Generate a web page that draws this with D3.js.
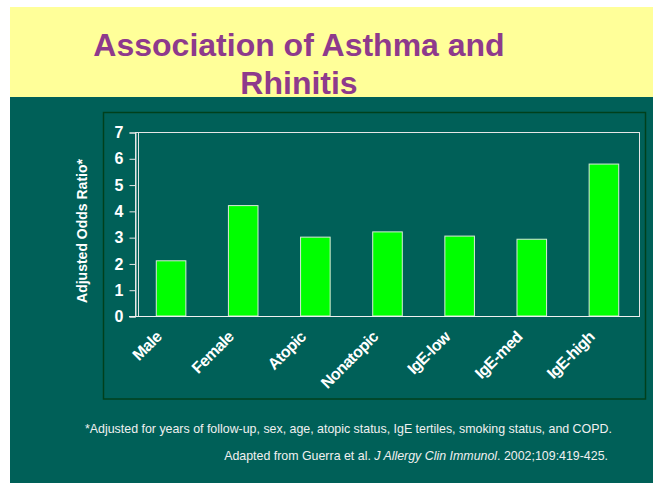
<!DOCTYPE html>
<html><head><meta charset="utf-8">
<script src="https://cdn.jsdelivr.net/npm/d3@7"></script>
<style>html,body{margin:0;padding:0;background:#fff;}svg{display:block;}</style>
</head><body>
<script>
const categories = ["Male","Female","Atopic","Nonatopic","IgE-low","IgE-med","IgE-high"];
const oddsRatios = [2.1, 4.2, 3.0, 3.2, 3.04, 2.92, 5.78];
const yTicks = [0,1,2,3,4,5,6,7];
const titleLines = ["Association of Asthma and","Rhinitis"];
const yTitle = "Adjusted Odds Ratio*";
const footnote = "*Adjusted for years of follow-up, sex, age, atopic status, IgE tertiles, smoking status, and COPD.";

const W = 653, H = 483;
const svg = d3.select("body").append("svg").attr("width", W).attr("height", H)
  .style("font-family", "Arial, 'Liberation Sans', sans-serif");

const teal = "#006058";
svg.append("rect").attr("x", 10).attr("y", 96).attr("width", W - 10).attr("height", H - 96).attr("fill", teal);
svg.append("rect").attr("x", 10).attr("y", 7).attr("width", W - 10).attr("height", 90).attr("fill", "#FFFF99");

svg.append("text").attr("x", 299).attr("text-anchor", "middle")
  .attr("fill", "#8E3A8C").attr("font-weight", "bold").attr("font-size", 32)
  .selectAll("tspan").data(titleLines).join("tspan")
  .attr("x", 299).attr("y", (d, i) => 56 + i * 38).text(d => d);

// chart frame
svg.append("rect").attr("x", 103.5).attr("y", 112.5).attr("width", 542).attr("height", 286.5)
  .attr("fill", "none").attr("stroke", "#00401c").attr("stroke-width", 1.5);

const x = d3.scaleBand().domain(categories).range([135, 640]).paddingInner(0.59).paddingOuter(0.295);
const y = d3.scaleLinear().domain([0, 7]).range([316, 132]);

// plot border
svg.append("rect").attr("x", 135.5).attr("y", y(7) + 0.5).attr("width", 504).attr("height", y(0) - y(7))
  .attr("fill", "none").attr("stroke", "#e6e6e6").attr("stroke-width", 1);
svg.append("line").attr("x1", 138.5).attr("x2", 138.5).attr("y1", y(7)).attr("y2", y(0))
  .attr("stroke", "#e6e6e6").attr("stroke-width", 1);

// y axis
const yAxis = svg.append("g").attr("transform", "translate(135.5,0.5)")
  .call(d3.axisLeft(y).tickValues(yTicks).tickSize(6).tickPadding(6).tickFormat(d3.format("d")));
yAxis.attr("font-size", null).attr("font-family", null);
yAxis.select(".domain").attr("stroke", "#e6e6e6");
yAxis.selectAll(".tick line").attr("stroke", "#e6e6e6");
yAxis.selectAll(".tick text").attr("fill", "#ffffff")
  .style("font-size", "16px").style("font-weight", "bold")
  .style("font-family", "Arial, 'Liberation Sans', sans-serif");

// bars
svg.append("g").selectAll("rect").data(categories).join("rect")
  .attr("x", d => x(d)).attr("y", (d, i) => y(oddsRatios[i]))
  .attr("width", x.bandwidth()).attr("height", (d, i) => y(0) - y(oddsRatios[i]))
  .attr("fill", "#00FF00").attr("stroke", "#d8ead8").attr("stroke-width", 1);

// baseline redraw
svg.append("line").attr("x1", 129).attr("x2", 640).attr("y1", y(0) + 0.5).attr("y2", y(0) + 0.5)
  .attr("stroke", "#f0f0f0").attr("stroke-width", 1.2);

// x labels
svg.append("g").selectAll("text").data(categories).join("text")
  .attr("transform", d => `translate(${x(d) + x.bandwidth() / 2 - 8.5},338) rotate(-45)`)
  .attr("text-anchor", "end").attr("fill", "#ffffff").attr("font-size", 16).attr("font-weight", "bold")
  .attr("letter-spacing", -0.6)
  .text(d => d);

// y title
svg.append("text").attr("transform", "translate(87,231) rotate(-90)")
  .attr("text-anchor", "middle").attr("fill", "#ffffff").attr("font-size", 14).attr("font-weight", "bold")
  .text(yTitle);

// footnotes
svg.append("text").attr("x", 85).attr("y", 433).attr("fill", "#f0f0f0").attr("font-size", 12.4)
  .text(footnote);
const src = svg.append("text").attr("x", 608).attr("y", 460).attr("text-anchor", "end")
  .attr("fill", "#f0f0f0").attr("font-size", 12.4);
src.append("tspan").text("Adapted from Guerra et al. ");
src.append("tspan").attr("font-style", "italic").text("J Allergy Clin Immunol");
src.append("tspan").text(". 2002;109:419-425.");
</script>
</body></html>
